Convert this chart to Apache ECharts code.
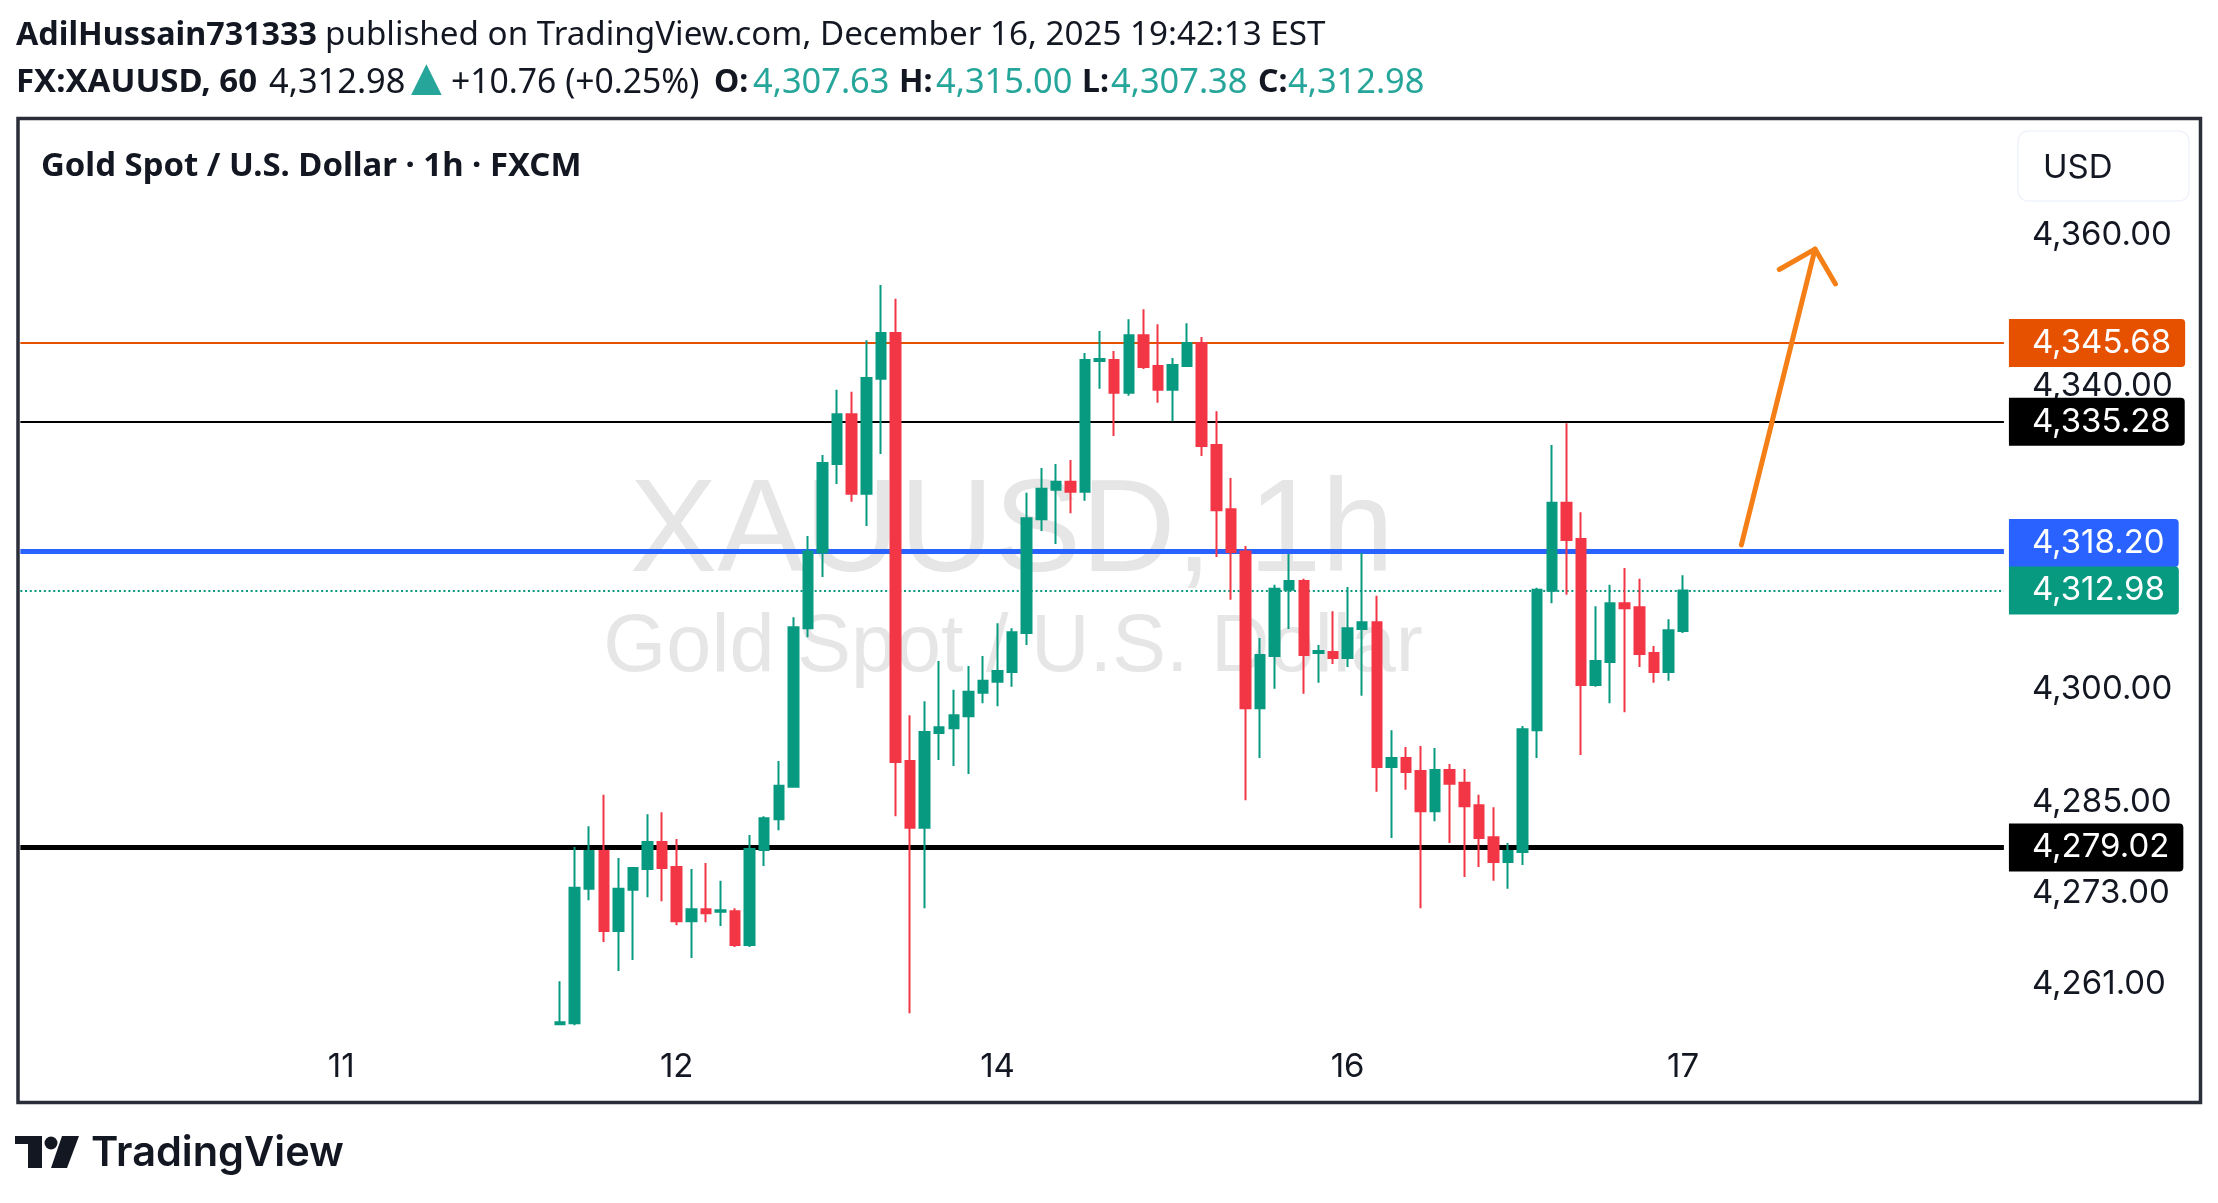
<!DOCTYPE html>
<html>
<head>
<meta charset="utf-8">
<title>XAUUSD 1h</title>
<script src="https://cdn.jsdelivr.net/npm/echarts@6/dist/echarts.min.js"></script>
<style>
  html, body { margin: 0; padding: 0; background: #fff; }
  #chart { width: 2218px; height: 1203px; }
</style>
</head>
<body>
<div id="chart"></div>
<script>
// candles, oldest first
const opens = [4255.67,4255.81,4273.56,4278.55,4267.97,4273.43,4276.19,4279.74,4276.45,4269.28,4270.86,4270.53,4270.60,4266.13,4278.69,4282.76,4287.04,4308.01,4318.00,4329.70,4336.28,4325.76,4340.95,4347.00,4290.45,4281.64,4294.14,4294.79,4296.37,4299.46,4300.91,4302.22,4307.35,4322.41,4326.29,4327.34,4326.02,4343.31,4343.45,4339.11,4346.73,4342.66,4339.50,4342.66,4345.68,4332.20,4323.72,4318.13,4297.42,4304.33,4313.07,4314.25,4304.72,4304.85,4304.06,4307.88,4308.80,4289.66,4290.85,4289.14,4283.81,4289.27,4287.56,4284.60,4280.39,4277.11,4278.42,4294.53,4312.94,4324.58,4319.78,4300.51,4303.54,4311.30,4310.77,4304.72,4302.22,4307.63];
const closes = [4255.94,4273.69,4278.55,4267.97,4273.56,4276.32,4279.74,4276.32,4269.28,4270.86,4270.33,4270.73,4266.13,4278.82,4282.89,4287.17,4308.14,4318.13,4329.84,4336.28,4325.76,4341.08,4347.00,4290.32,4281.64,4294.27,4294.92,4296.50,4299.59,4301.04,4302.35,4307.48,4322.54,4326.42,4327.34,4326.02,4343.45,4343.58,4339.11,4346.73,4342.52,4339.50,4342.79,4345.68,4332.07,4323.59,4318.07,4297.42,4304.46,4313.20,4314.25,4304.46,4304.98,4304.06,4308.01,4308.80,4289.66,4290.85,4289.01,4283.81,4289.27,4287.43,4284.47,4280.26,4277.11,4278.55,4294.66,4313.07,4324.58,4319.64,4300.51,4303.67,4311.30,4310.64,4304.59,4302.22,4307.74,4312.98];
const highs = [4261.33,4279.08,4281.84,4285.98,4277.63,4276.45,4283.42,4283.68,4280.13,4276.19,4276.98,4274.61,4270.99,4280.66,4283.16,4290.45,4309.45,4320.17,4330.89,4339.50,4339.24,4346.07,4353.37,4351.53,4296.50,4298.34,4303.67,4299.86,4303.01,4304.33,4308.67,4308.01,4325.89,4329.18,4329.70,4330.23,4344.37,4347.26,4344.63,4348.84,4350.15,4348.18,4343.71,4348.31,4346.47,4336.67,4327.86,4318.86,4306.69,4313.73,4317.80,4314.52,4305.77,4310.24,4313.46,4317.94,4312.28,4294.53,4292.29,4292.43,4292.16,4290.06,4289.40,4285.98,4284.34,4279.61,4295.06,4313.33,4332.20,4335.10,4323.33,4310.90,4313.73,4315.96,4314.52,4305.64,4309.19,4315.00];
const lows = [4255.67,4255.54,4272.04,4266.52,4262.71,4264.16,4272.44,4271.91,4268.76,4264.42,4269.15,4268.63,4265.86,4265.86,4276.58,4281.31,4287.04,4306.82,4314.78,4327.07,4324.71,4321.49,4331.02,4283.16,4257.12,4270.99,4290.59,4289.80,4288.74,4298.08,4297.69,4300.25,4305.77,4320.83,4319.12,4323.20,4324.84,4339.63,4333.39,4338.71,4342.26,4337.79,4335.36,4342.66,4330.76,4317.41,4311.76,4285.26,4290.85,4299.99,4307.88,4299.33,4300.78,4303.27,4302.88,4299.07,4286.38,4280.26,4286.64,4270.99,4282.50,4279.61,4275.13,4276.45,4274.61,4273.56,4276.71,4290.85,4311.30,4312.41,4291.24,4300.25,4298.08,4296.90,4302.88,4300.78,4301.04,4307.38];

// axis labels
const priceTicks = [4360, 4340, 4300, 4285, 4273, 4261];
const dayLabels = ['11', '12', '14', '16', '17'];
const dayBars = [22, 45, 67, 91, 114];

// horizontal price levels
const levelPrices = [4345.68, 4335.28, 4318.20, 4312.98, 4279.02];
const levelColors = ['#E65100', '#000000', '#2962FF', '#089981', '#000000'];
const levelWidths = [2, 2, 5, 2, 5];
const levelLabelShift = [0, 0, -8, 0, 0];

// hand drawn arrow, bar position and price
const arrowBars = [118, 123.05, 120.6, 124.45];
const arrowPrices = [4319.0, 4358.1, 4355.4, 4353.5];

const firstCandleBar = 37;
const barCount = 137;

const up = '#089981';
const down = '#F23645';
const ink = '#131722';
const teal = '#26A69A';
const uiFont = 'Noto Sans';
const scaleFont = 'Inter';

const candleRows = opens.map((o, i) => [i + firstCandleBar, o, closes[i], lows[i], highs[i]]);

const categories = [];
for (let k = 0; k < barCount; k++) {
  const d = dayBars.indexOf(k);
  categories.push(d >= 0 ? dayLabels[d] : '');
}

function priceText(v) {
  return v.toLocaleString('en-US', { minimumFractionDigits: 2, maximumFractionDigits: 2 });
}

function textEl(text, x, y, size, weight, color, font, align) {
  return {
    type: 'text', x: x, y: y, z: 10,
    style: { text: text, fill: color, fontFamily: font || uiFont, fontSize: size, fontWeight: weight || 'normal', textAlign: align || 'left', textVerticalAlign: 'middle' }
  };
}

const levelLines = levelPrices.map((p, i) => {
  const isLast = i === 3;
  const lineStyle = { color: levelColors[i], width: levelWidths[i], type: isLast ? [2, 2.7] : 'solid', cap: 'butt' };
  return [
    {
      xAxis: 0, yAxis: p, lineStyle: lineStyle,
      label: {
        show: true, position: 'end', distance: 5, offset: [0, levelLabelShift[i]], formatter: priceText(p), color: '#fff',
        fontFamily: scaleFont, fontSize: 33, lineHeight: 48, padding: [0, 14, 0, 23],
        backgroundColor: levelColors[i], borderRadius: [0, 4, 4, 0]
      }
    },
    { xAxis: barCount - 1, yAxis: p }
  ];
});

const headerTexts = [
  textEl('AdilHussain731333', 16, 36, 32.3, 'bold', ink),
  textEl('published on TradingView.com, December 16, 2025 19:42:13 EST', 325, 36, 33.2, 'normal', ink),
  textEl('FX:XAUUSD, 60', 16, 83, 33, 'bold', ink),
  textEl('4,312.98', 269, 83, 34.4, 'normal', ink),
  textEl('▲', 411, 80, 40, 'normal', teal, 'DejaVu Sans'),
  textEl('+10.76 (+0.25%)', 451, 83, 33.7, 'normal', ink),
  textEl('O:', 714, 83, 32, 'bold', ink),
  textEl('4,307.63', 753, 83, 34.4, 'normal', teal),
  textEl('H:', 899, 83, 32, 'bold', ink),
  textEl('4,315.00', 936, 83, 34.4, 'normal', teal),
  textEl('L:', 1082, 83, 32, 'bold', ink),
  textEl('4,307.38', 1111, 83, 34.4, 'normal', teal),
  textEl('C:', 1258, 83, 32, 'bold', ink),
  textEl('4,312.98', 1288, 83, 34.4, 'normal', teal),
  textEl('Gold Spot / U.S. Dollar · 1h · FXCM', 41, 167, 32.9, 'bold', ink)
];

const decoration = [
  { type: 'text', x: 1012, y: 535, z: -1, style: { text: 'XAUUSD, 1h', fill: '#E6E6E6', fontFamily: 'Liberation Sans', fontSize: 131, textAlign: 'center', textVerticalAlign: 'middle' } },
  { type: 'text', x: 1013, y: 649, z: -1, style: { text: 'Gold Spot / U.S. Dollar', fill: '#E6E6E6', fontFamily: 'Liberation Sans', fontSize: 81, textAlign: 'center', textVerticalAlign: 'middle' } },
  { type: 'rect', z: 9, shape: { x: 18, y: 118.5, width: 2182.5, height: 984 }, style: { fill: 'none', stroke: '#2A2E39', lineWidth: 3.5 } },
  { type: 'rect', z: 9, shape: { x: 2018, y: 131, width: 171, height: 70, r: 10 }, style: { fill: '#fff', stroke: '#F0F3FA', lineWidth: 1.5 } },
  textEl('USD', 2043, 168, 33, 'normal', ink, scaleFont),
  // TradingView mark
  { type: 'polygon', z: 10, shape: { points: [[15, 1136], [42, 1136], [42, 1168], [28, 1168], [28, 1144], [15, 1144]] }, style: { fill: ink } },
  { type: 'circle', z: 10, shape: { cx: 51, cy: 1143, r: 6.5 }, style: { fill: ink } },
  { type: 'polygon', z: 10, shape: { points: [[62, 1136], [79, 1136], [67, 1168], [51, 1168]] }, style: { fill: ink } },
  textEl('TradingView', 91, 1154, 41.5, '600', ink, scaleFont)
];

const chart = echarts.init(document.getElementById('chart'));

chart.setOption({
  animation: false,
  backgroundColor: '#fff',
  grid: { left: 20.35, top: 120, width: 1983.56, height: 920 },
  xAxis: [{
    type: 'category',
    data: categories,
    boundaryGap: false,
    axisLine: { show: false },
    axisTick: { show: false },
    splitLine: { show: false },
    axisLabel: { interval: 0, margin: 11, color: ink, fontFamily: scaleFont, fontSize: 33 }
  }, {
    // same bars as a plain number scale, the arrow needs fractions of a bar
    type: 'value',
    show: false,
    min: 0,
    max: barCount - 1,
    splitLine: { show: false }
  }],
  yAxis: {
    type: 'value',
    position: 'right',
    min: 4253.58,
    max: 4375.16,
    axisLine: { show: false },
    axisTick: { show: false },
    splitLine: { show: false },
    axisLabel: {
      customValues: priceTicks,
      margin: 28,
      color: ink,
      fontFamily: scaleFont,
      fontSize: 33,
      formatter: priceText
    }
  },
  series: [{
    type: 'candlestick',
    data: candleRows,
    encode: { x: 0, y: [1, 2, 3, 4] },
    barWidth: 10,
    z: 3,
    itemStyle: { color: up, color0: down, borderColor: up, borderColor0: down, borderColorDoji: up, borderWidth: 2 },
    markLine: {
      silent: true,
      symbol: 'none',
      animation: false,
      z: 1,
      data: levelLines
    }
  }],
  graphic: { elements: decoration.concat(headerTexts) }
});

// arrow sits on the price scale, so its pixels come from the chart
const arrowPts = arrowBars.map((b, i) => chart.convertToPixel({ xAxisIndex: 1, yAxisIndex: 0 }, [b, arrowPrices[i]]));
chart.setOption({
  graphic: {
    elements: decoration.concat(headerTexts).concat([
      { type: 'polyline', z: 8, shape: { points: [arrowPts[0], arrowPts[1]] }, style: { stroke: '#F57F17', lineWidth: 5, lineCap: 'round', fill: 'none' } },
      { type: 'polyline', z: 8, shape: { points: [arrowPts[2], arrowPts[1], arrowPts[3]] }, style: { stroke: '#F57F17', lineWidth: 5, lineCap: 'round', lineJoin: 'round', fill: 'none' } }
    ])
  }
}, { replaceMerge: ['graphic'] });
</script>
</body>
</html>
